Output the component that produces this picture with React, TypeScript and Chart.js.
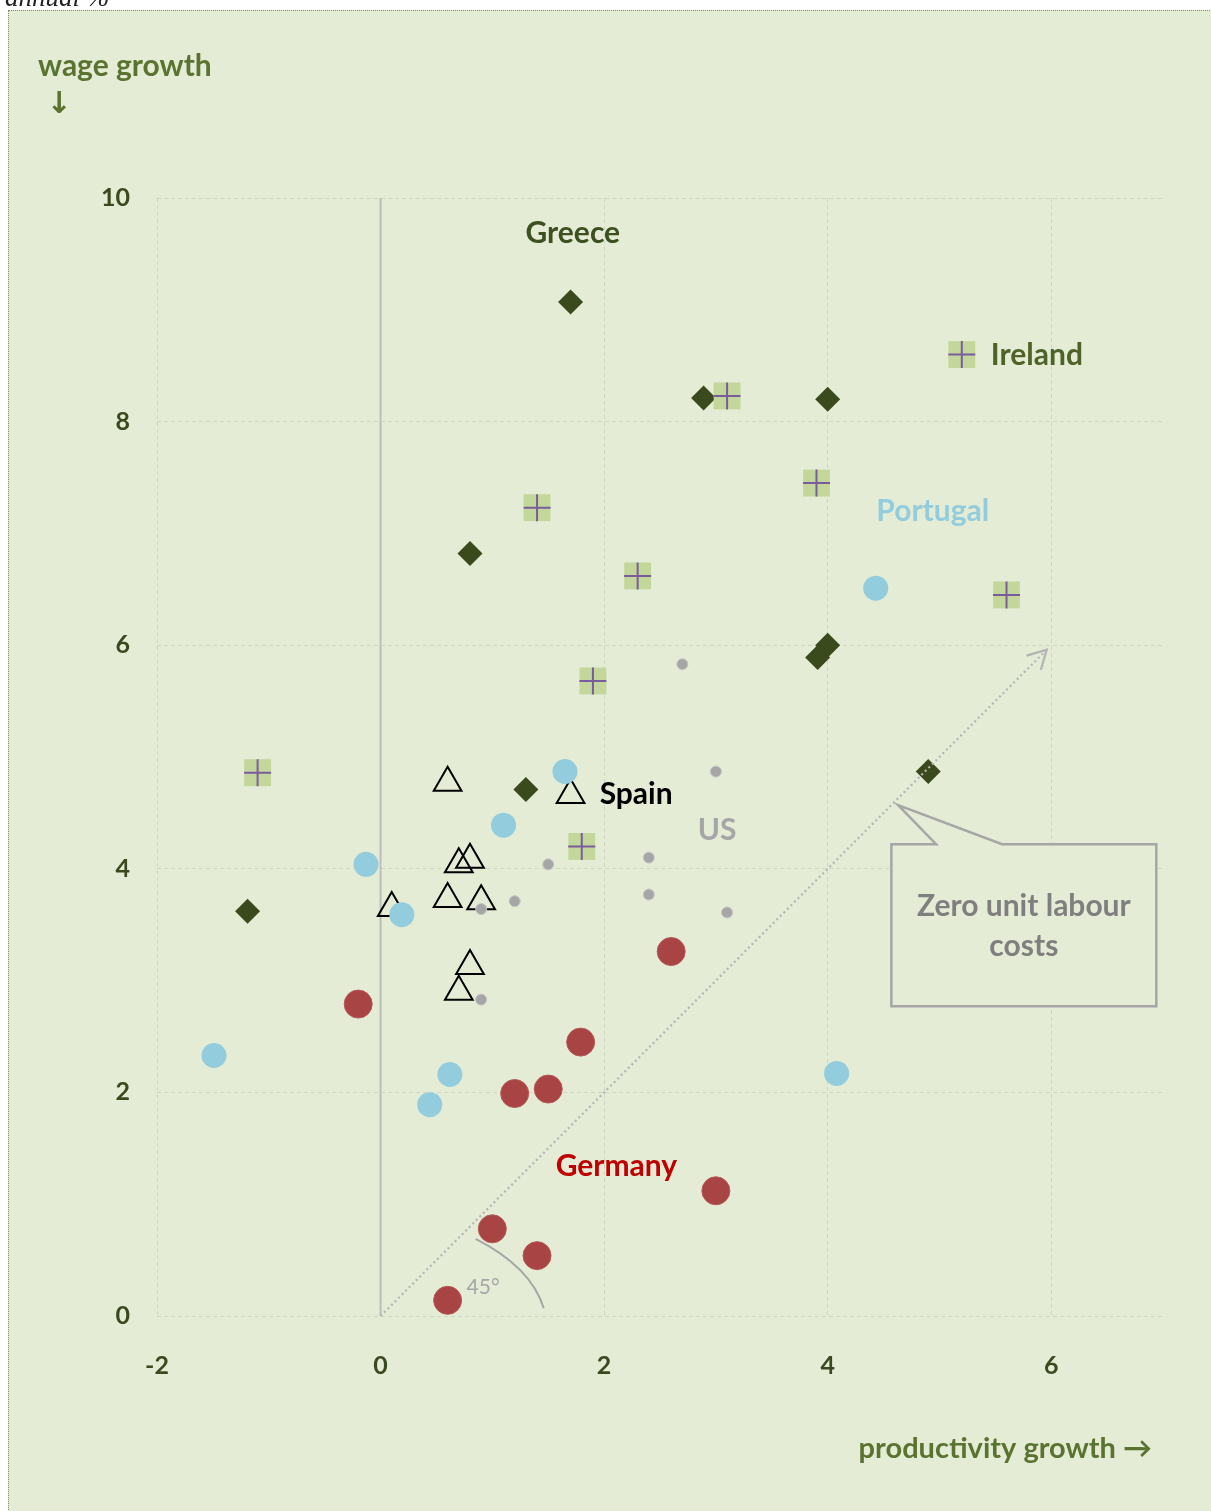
import React, { useEffect, useRef } from 'react';
import { Chart, registerables } from 'chart.js';

Chart.register(...registerables);

// ---- data (productivity growth x, wage growth y, annual %) ----
const greeceX = [1.7, 2.89, 4.0, 0.8, 3.91, 4.0, 1.3, -1.19, 4.9];
const greeceY = [9.07, 8.21, 8.2, 6.82, 5.89, 6.0, 4.71, 3.62, 4.87];

const irelandX = [5.2, 3.1, 1.4, 3.9, 2.3, 5.6, 1.9, -1.1, 1.8];
const irelandY = [8.6, 8.23, 7.23, 7.45, 6.62, 6.45, 5.68, 4.86, 4.2];

const portugalX = [4.43, 1.65, 1.1, -0.13, 0.19, -1.49, 0.62, 0.44, 4.08];
const portugalY = [6.51, 4.87, 4.39, 4.04, 3.59, 2.33, 2.16, 1.89, 2.17];

const spainX = [0.6, 1.7, 0.7, 0.8, 0.1, 0.6, 0.9, 0.8, 0.7];
const spainY = [4.77, 4.66, 4.04, 4.08, 3.65, 3.73, 3.71, 3.13, 2.9];

const usX = [2.7, 3.0, 1.5, 2.4, 2.4, 1.2, 0.9, 3.1, 0.9];
const usY = [5.83, 4.87, 4.04, 4.1, 3.77, 3.71, 3.64, 3.61, 2.83];

const germanyX = [2.6, -0.2, 1.79, 1.2, 1.5, 3.0, 1.0, 1.4, 0.6];
const germanyY = [3.26, 2.79, 2.45, 1.99, 2.03, 1.12, 0.78, 0.54, 0.14];

const xTicks = [-2, 0, 2, 4, 6];
const yTicks = [0, 2, 4, 6, 8, 10];

const pts = (xs: number[], ys: number[]) => xs.map((x, i) => ({ x, y: ys[i] }));

const FONT = 'Lato, "Open Sans", sans-serif';
const BG = '#e4ecd5';

const overlay = {
  id: 'overlay',
  beforeDatasetsDraw(chart: any) {
    const { ctx, chartArea, scales } = chart;
    const x0 = scales.x.getPixelForValue(0);
    ctx.save();
    ctx.strokeStyle = '#bdbdbd';
    ctx.lineWidth = 2;
    ctx.beginPath();
    ctx.moveTo(x0, chartArea.top);
    ctx.lineTo(x0, chartArea.bottom);
    ctx.stroke();
    ctx.restore();
  },
  afterDatasetsDraw(chart: any) {
    const { ctx, scales } = chart;
    const px = (v: number) => scales.x.getPixelForValue(v);
    const py = (v: number) => scales.y.getPixelForValue(v);
    ctx.save();

    // 45-degree line (zero unit labour costs)
    ctx.strokeStyle = '#b4b4b4';
    ctx.lineWidth = 2.2;
    ctx.setLineDash([2, 3]);
    ctx.beginPath();
    ctx.moveTo(px(0), py(0));
    ctx.lineTo(px(5.95), py(5.95));
    ctx.stroke();
    ctx.setLineDash([]);
    // arrow head
    const tx = px(5.96), ty = py(5.96);
    const ang = Math.atan2(py(5.96) - py(0), px(5.96) - px(0));
    const wl = 21;
    ctx.beginPath();
    ctx.moveTo(tx + Math.cos(ang + Math.PI - 0.5) * wl, ty + Math.sin(ang + Math.PI - 0.5) * wl);
    ctx.lineTo(tx, ty);
    ctx.lineTo(tx + Math.cos(ang + Math.PI + 0.5) * wl, ty + Math.sin(ang + Math.PI + 0.5) * wl);
    ctx.stroke();

    // 45 degree arc
    ctx.strokeStyle = '#a6a6a6';
    ctx.lineWidth = 2;
    ctx.beginPath();
    ctx.moveTo(px(0.85), py(0.69));
    ctx.quadraticCurveTo(px(1.345), py(0.44), px(1.46), py(0.07));
    ctx.stroke();
    ctx.fillStyle = '#a6a6a6';
    ctx.font = `21px ${FONT}`;
    ctx.textAlign = 'left';
    ctx.textBaseline = 'middle';
    ctx.fillText('45°', px(0.77), py(0.26));

    // callout box
    const l = px(4.57), r = px(6.94), t = py(4.22), b = py(2.77);
    ctx.beginPath();
    ctx.moveTo(l, t);
    ctx.lineTo(px(4.97), t);
    ctx.lineTo(px(4.63), py(4.57));
    ctx.lineTo(px(5.56), t);
    ctx.lineTo(r, t);
    ctx.lineTo(r, b);
    ctx.lineTo(l, b);
    ctx.closePath();
    ctx.fillStyle = BG;
    ctx.fill();
    ctx.strokeStyle = '#a6a6a6';
    ctx.lineWidth = 2.5;
    ctx.stroke();
    ctx.fillStyle = '#7f7f7f';
    ctx.font = `bold 30px ${FONT}`;
    ctx.textAlign = 'center';
    ctx.fillText('Zero unit labour', px(5.755), py(3.66));
    ctx.fillText('costs', px(5.755), py(3.31));

    // country labels
    const lab = (text: string, x: number, y: number, color: string, align: CanvasTextAlign) => {
      ctx.fillStyle = color;
      ctx.textAlign = align;
      ctx.fillText(text, px(x), py(y));
    };
    ctx.font = `bold 30px ${FONT}`;
    lab('Greece', 1.72, 9.68, '#3e5020', 'center');
    lab('Ireland', 5.46, 8.59, '#4f6228', 'left');
    lab('Portugal', 4.94, 7.2, '#93cddd', 'center');
    lab('Spain', 1.96, 4.67, '#000000', 'left');
    lab('US', 3.01, 4.34, '#a6a6a6', 'center');
    lab('Germany', 2.11, 1.34, '#c00000', 'center');

    // axis titles
    ctx.fillStyle = '#5a7330';
    ctx.textAlign = 'left';
    ctx.fillText('wage growth', 29, 55);
    ctx.font = `bold 30px "DejaVu Sans", sans-serif`;
    ctx.textAlign = 'center';
    ctx.fillText('↓', 50, 94);
    ctx.font = `bold 29px ${FONT}`;
    ctx.textAlign = 'right';
    ctx.fillText('productivity growth →', 1143, 1438);

    ctx.restore();
  },
};

export default function App() {
  const ref = useRef<HTMLCanvasElement | null>(null);

  useEffect(() => {
    document.documentElement.style.overflow = 'hidden';
    if (!ref.current) return;
    const gridColor = 'rgba(170,175,160,0.35)';
    const chart = new Chart(ref.current, {
      type: 'scatter',
      data: {
        datasets: [
          {
            label: 'Germany',
            data: pts(germanyX, germanyY),
            pointStyle: 'circle',
            pointRadius: 14,
            backgroundColor: '#a84444',
            borderColor: '#b65757',
            borderWidth: 1,
            order: 1,
          },
          {
            label: 'US',
            data: pts(usX, usY),
            pointStyle: 'circle',
            pointRadius: 5.5,
            backgroundColor: '#a6a6a6',
            borderColor: '#c4c4c4',
            borderWidth: 1,
            order: 2,
          },
          {
            label: 'Portugal',
            data: pts(portugalX, portugalY),
            pointStyle: 'circle',
            pointRadius: 12.5,
            backgroundColor: '#93cddd',
            borderWidth: 0,
            order: 3,
          },
          {
            label: 'Ireland cross',
            data: pts(irelandX, irelandY),
            pointStyle: 'cross',
            pointRadius: 13.5,
            borderColor: '#7a5c9e',
            borderWidth: 2,
            order: 4,
          },
          {
            label: 'Ireland',
            data: pts(irelandX, irelandY),
            pointStyle: 'rect',
            pointRadius: 19,
            backgroundColor: '#c4d79b',
            borderWidth: 0,
            order: 5,
          },
          {
            label: 'Greece',
            data: pts(greeceX, greeceY),
            pointStyle: 'rectRot',
            pointRadius: 12.5,
            backgroundColor: '#3b4a1c',
            borderWidth: 0,
            order: 6,
          },
          {
            label: 'Spain',
            data: pts(spainX, spainY),
            pointStyle: 'triangle',
            pointRadius: 16,
            backgroundColor: 'rgba(0,0,0,0)',
            borderColor: '#000000',
            borderWidth: 2,
            order: 7,
          },
        ],
      },
      options: {
        animation: false,
        responsive: false,
        maintainAspectRatio: false,
        events: [],
        layout: { padding: { top: 187, right: 48, left: 0, bottom: 0 } },
        plugins: { legend: { display: false }, tooltip: { enabled: false } },
        scales: {
          x: {
            type: 'linear',
            min: -2,
            max: 7,
            afterBuildTicks: (s: any) => {
              s.ticks = xTicks.map((v) => ({ value: v }));
            },
            afterFit: (s: any) => {
              s.height = 195;
            },
            ticks: {
              padding: 35,
              color: '#3b4a1e',
              font: { family: FONT, size: 25, weight: 'bold' },
            },
            grid: {
              drawTicks: false,
              color: (c: any) => (c.tick && c.tick.value === 0 ? 'rgba(0,0,0,0)' : gridColor),
              lineWidth: 1,
            },
            border: { display: false, dash: [4, 3] },
          },
          y: {
            type: 'linear',
            min: 0,
            max: 10,
            afterBuildTicks: (s: any) => {
              s.ticks = yTicks.map((v) => ({ value: v }));
            },
            afterFit: (s: any) => {
              s.width = 148;
            },
            ticks: {
              padding: 27,
              color: '#3b4a1e',
              font: { family: FONT, size: 25, weight: 'bold' },
            },
            grid: { drawTicks: false, color: gridColor, lineWidth: 1 },
            border: { display: false, dash: [4, 3] },
          },
        },
      },
      plugins: [overlay],
    });
    return () => chart.destroy();
  }, []);

  return (
    <div>
      <div
        style={{
          position: 'fixed',
          top: -19,
          left: 5,
          fontFamily: 'serif',
          fontStyle: 'italic',
          fontSize: 27,
          lineHeight: '32px',
          color: '#222',
          whiteSpace: 'nowrap',
        }}
      >
        annual %
      </div>
      <div
        style={{
          position: 'fixed',
          top: 10,
          left: 8,
          width: 1203,
          height: 1501,
          background: BG,
          borderTop: '1px dotted #7d8c62',
          borderLeft: '1px dotted #7d8c62',
        }}
      >
        <canvas ref={ref} width={1202} height={1500} style={{ position: 'absolute', top: 0, left: 0, display: 'block' }} />
      </div>
    </div>
  );
}
